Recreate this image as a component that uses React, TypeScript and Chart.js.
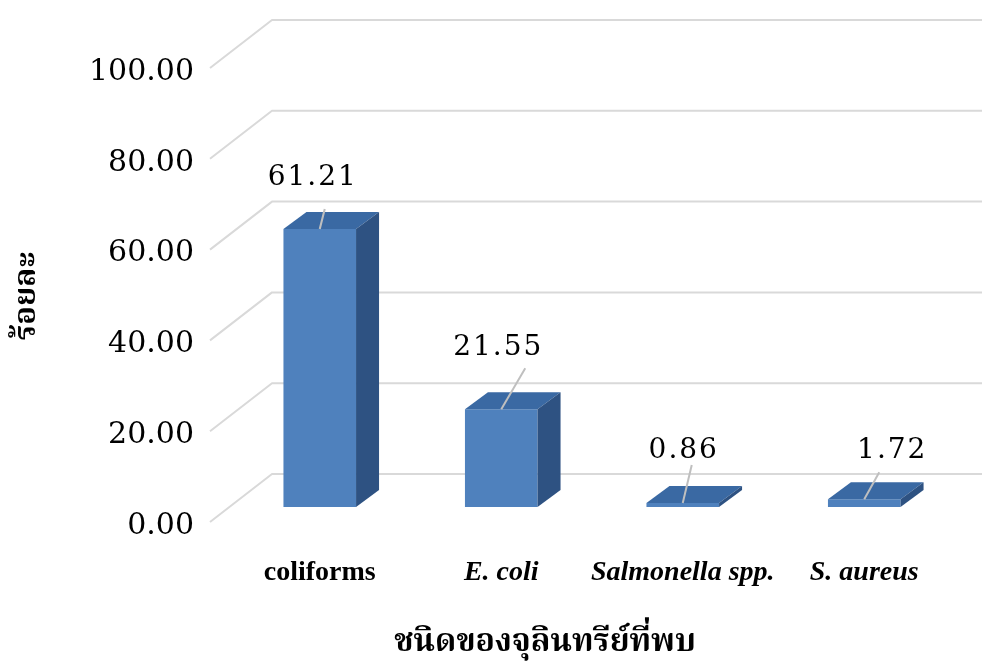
import { useEffect, useRef } from 'react';
import { Chart, registerables } from 'chart.js';

Chart.register(...registerables);

// ---- data ----
const categories = ['coliforms', 'E. coli', 'Salmonella spp.', 'S. aureus'];
const percentValues = [61.21, 21.55, 0.86, 1.72];
const yTickValues = [0, 20, 40, 60, 80, 100];
const italicCategory = [false, true, true, true];
const yAxisTitle = 'ร้อยละ';
const xAxisTitle = 'ชนิดของจุลินทรีย์ที่พบ';

// ---- layout / style (not data) ----
const labelOffsets = [[-7, -51], [-3, -61], [1, -52], [28, -48]];
const leaderStarts = [[5, -20], [24, -41], [9, -38], [15, -27]];
const DEPTH_X = 23;
const DEPTH_Y = 17;
const WALL_X = 43;
const WALL_Y = 33;
const FLOOR_X = -19;
const FLOOR_Y = 15;
const FRONT = '#4F81BD';
const TOP = '#3A69A3';
const SIDE = '#2E5282';
const GRID = '#D9D9D9';
const THAI_FONT = '"Noto Serif Thai", "Noto Sans Thai", "Loma", "Garuda", "Tlwg Typo", "Norasi", "Kinnari", "Laksaman", "TH Sarabun New", "DejaVu Sans", sans-serif';

const threeD = {
  id: 'threeD',
  beforeDatasetsDraw(chart: any) {
    const { ctx, chartArea, scales } = chart;
    const y = scales.y;
    ctx.save();
    ctx.strokeStyle = GRID;
    ctx.lineWidth = 2;
    ctx.lineJoin = 'round';
    for (const v of yTickValues) {
      const p = y.getPixelForValue(v);
      ctx.beginPath();
      ctx.moveTo(chartArea.left + FLOOR_X, p + FLOOR_Y);
      ctx.lineTo(chartArea.left + WALL_X, p - WALL_Y);
      ctx.lineTo(chart.width, p - WALL_Y);
      ctx.stroke();
    }
    ctx.restore();
  },
  afterDatasetsDraw(chart: any) {
    const { ctx } = chart;
    const meta = chart.getDatasetMeta(0);
    ctx.save();
    meta.data.forEach((el: any, i: number) => {
      const { x, y, base, width } = el.getProps(['x', 'y', 'base', 'width'], true);
      const l = x - width / 2;
      const r = x + width / 2;
      // top face
      ctx.fillStyle = TOP;
      ctx.beginPath();
      ctx.moveTo(l, y);
      ctx.lineTo(l + DEPTH_X, y - DEPTH_Y);
      ctx.lineTo(r + DEPTH_X, y - DEPTH_Y);
      ctx.lineTo(r, y);
      ctx.closePath();
      ctx.fill();
      // side face
      ctx.fillStyle = SIDE;
      ctx.beginPath();
      ctx.moveTo(r, y);
      ctx.lineTo(r + DEPTH_X, y - DEPTH_Y);
      ctx.lineTo(r + DEPTH_X, base - DEPTH_Y);
      ctx.lineTo(r, base);
      ctx.closePath();
      ctx.fill();
      // leader line
      const [lx, ly] = leaderStarts[i];
      ctx.strokeStyle = '#BFBFBF';
      ctx.lineWidth = 2;
      ctx.beginPath();
      ctx.moveTo(x + lx, y + ly);
      ctx.lineTo(x, y);
      ctx.stroke();
      // data label
      const [ox, oy] = labelOffsets[i];
      ctx.fillStyle = '#000000';
      ctx.font = '28px "DejaVu Serif", serif';
      (ctx as any).letterSpacing = '2px';
      ctx.textAlign = 'center';
      ctx.textBaseline = 'middle';
      ctx.fillText(percentValues[i].toFixed(2), x + ox, y + oy);
    });
    ctx.restore();
  },
  afterDraw(chart: any) {
    const { ctx } = chart;
    ctx.save();
    ctx.fillStyle = '#000000';
    ctx.textAlign = 'center';
    ctx.textBaseline = 'middle';
    ctx.font = 'bold 32px ' + THAI_FONT;
    ctx.fillText(xAxisTitle, 545, 646);
    ctx.translate(30, 296);
    ctx.rotate(-Math.PI / 2);
    ctx.font = 'bold 31px ' + THAI_FONT;
    ctx.fillText(yAxisTitle, 0, 0);
    ctx.restore();
  },
};

export default function App() {
  const canvasRef = useRef<HTMLCanvasElement | null>(null);

  useEffect(() => {
    document.body.style.margin = '0';
    const canvas = canvasRef.current;
    if (!canvas) return;
    const chart = new Chart(canvas, {
      type: 'bar',
      data: {
        labels: categories,
        datasets: [
          {
            data: percentValues,
            backgroundColor: FRONT,
            borderWidth: 0,
            barPercentage: 0.4,
            categoryPercentage: 1,
          },
        ],
      },
      options: {
        animation: false,
        responsive: true,
        maintainAspectRatio: false,
        layout: { padding: { top: 51, right: 27, left: 0, bottom: 0 } },
        plugins: {
          legend: { display: false },
          tooltip: { enabled: false },
        },
        scales: {
          x: {
            grid: { display: false, drawTicks: false },
            border: { display: false },
            afterFit: (s: any) => {
              s.height = 156;
            },
            ticks: {
              padding: 49,
              maxRotation: 0,
              autoSkip: false,
              color: '#000000',
              font: (c: any) => ({
                family: '"Liberation Serif", "Times New Roman", serif',
                size: 28,
                weight: 'bold',
                style: italicCategory[c.index] ? 'italic' : 'normal',
              }),
            },
          },
          y: {
            min: 0,
            max: 100,
            grid: { display: false, drawTicks: false },
            border: { display: false },
            afterFit: (s: any) => {
              s.width = 229;
            },
            afterBuildTicks: (s: any) => {
              s.ticks = yTickValues.map((v) => ({ value: v }));
            },
            ticks: {
              padding: 35,
              labelOffset: 19,
              color: '#000000',
              font: { family: '"DejaVu Serif", serif', size: 30 },
              callback: (v: any) => Number(v).toFixed(2),
            },
          },
        },
      },
      plugins: [threeD],
    });
    return () => chart.destroy();
  }, []);

  return (
    <div style={{ position: 'relative', width: 982, height: 663 }}>
      <canvas ref={canvasRef} />
    </div>
  );
}
